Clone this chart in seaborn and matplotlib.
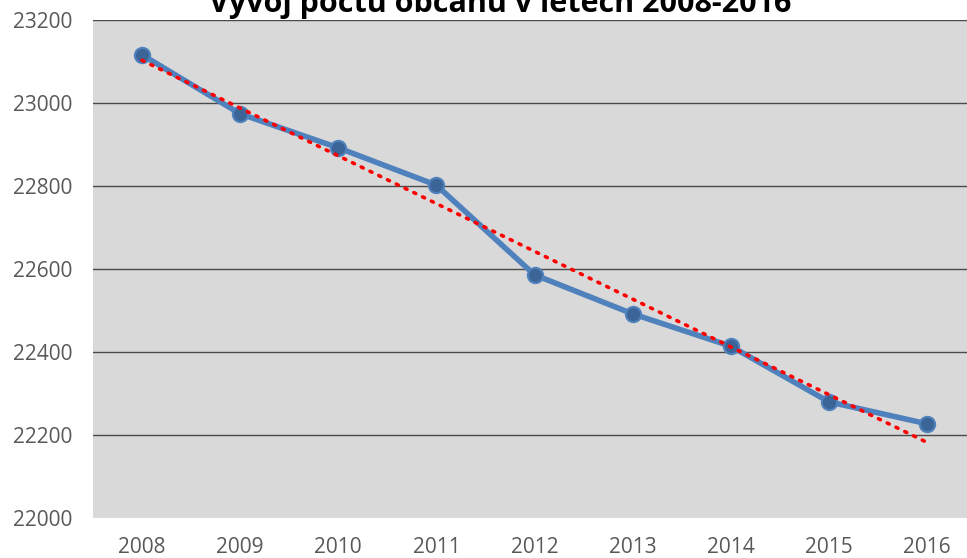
import numpy as np
import pandas as pd
import matplotlib
matplotlib.use("Agg")
import matplotlib.pyplot as plt
import seaborn as sns

# population per year
years = ["2008", "2009", "2010", "2011", "2012", "2013", "2014", "2015", "2016"]
population = [23116, 22974, 22892, 22802, 22586, 22492, 22414, 22280, 22227]
y_ticks = [22000, 22200, 22400, 22600, 22800, 23000, 23200]
title = "Vývoj počtu občanů v letech 2008-2016"

df = pd.DataFrame({"idx": np.arange(len(years)), "rok": years, "pocet": population})

sns.set_style("white")
plt.rcParams["font.family"] = ["Open Sans", "DejaVu Sans"]

fig = plt.figure(figsize=(9.67, 5.58), dpi=100)
ax = fig.add_axes([93 / 967, 1 - 518 / 558, (976 - 93) / 967, (518 - 20) / 558])
ax.set_facecolor("#D9D9D9")

# linear trend (red dotted), fitted by seaborn
sns.regplot(data=df, x="idx", y="pocet", ax=ax, scatter=False, ci=None,
            line_kws=dict(color="#FF0000", lw=2.6, linestyle=(0, (0.6, 2.1)),
                          dash_capstyle="round", zorder=4))

# main series
sns.lineplot(data=df, x="idx", y="pocet", ax=ax, color="#4F81BD", lw=4,
             marker="o", markersize=11, markerfacecolor="#3B6597",
             markeredgecolor="#4F81BD", markeredgewidth=1.5, zorder=3)

ax.set_xlim(-0.5, len(years) - 0.5)
ax.set_ylim(22000, 23200)
ax.set_xticks(df["idx"])
ax.set_xticklabels(years)
ax.set_yticks(y_ticks)
ax.set_yticklabels([str(t) for t in y_ticks])
for t in y_ticks[1:]:
    ax.axhline(t, color="#4A4A4A", lw=1, zorder=1)

ax.tick_params(axis="both", length=0, labelsize=15, labelcolor="#595959")
ax.tick_params(axis="y", pad=15)
ax.tick_params(axis="x", pad=14)
ax.set_xlabel("")
ax.set_ylabel("")
for s in ax.spines.values():
    s.set_visible(False)

fig.text(500 / 967, 1 - 12 / 558, title, ha="center", va="baseline",
         fontsize=22, fontweight="bold", color="#000000")

fig.savefig("out.png", dpi=100)
